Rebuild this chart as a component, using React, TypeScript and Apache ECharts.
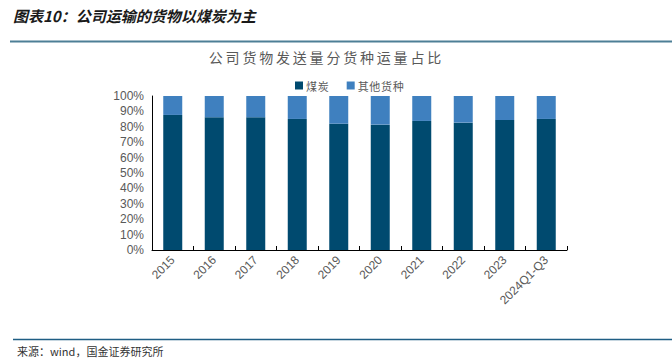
import React, { useEffect, useRef } from "react";
import * as echarts from "echarts";

const categories = ["2015", "2016", "2017", "2018", "2019", "2020", "2021", "2022", "2023", "2024Q1-Q3"];
const coalShare = [87.7, 86.2, 86.2, 85.1, 82.0, 81.4, 83.8, 82.7, 84.4, 85.1];
const otherShare = [12.3, 13.8, 13.8, 14.9, 18.0, 18.6, 16.2, 17.3, 15.6, 14.9];
const seriesNames = ["煤炭", "其他货种"];
const chartTitle = "公司货物发送量分货种运量占比";

const spaced = (s: string, sp: string) => s.split("").join(sp);

export default function App() {
  const ref = useRef<HTMLDivElement>(null);
  useEffect(() => {
    const chart = echarts.init(ref.current!, undefined, { renderer: "svg" });
    chart.setOption({
      animation: false,
      backgroundColor: "#ffffff",
      title: {
        text: spaced(chartTitle, "\u2009"),
        left: 320,
        textAlign: "center",
        top: 45,
        textStyle: {
          fontFamily: "Noto Sans CJK SC",
          fontSize: 14,
          fontWeight: "normal",
          color: "#595959",
        },
      },
      legend: {
        top: 75,
        left: 290,
        itemWidth: 8,
        itemHeight: 8,
        itemGap: 18,
        icon: "rect",
        data: seriesNames,
        formatter: (n: string) => spaced(n, "\u200a"),
        textStyle: { fontFamily: "Noto Sans CJK SC", fontSize: 11, color: "#595959", padding: [0, 0, 0, -2] },
      },
      grid: { left: 152, right: 105, top: 96, bottom: 111 },
      xAxis: {
        type: "category",
        data: categories,
        axisLine: { lineStyle: { color: "#000000", width: 1 } },
        axisTick: { show: true, inside: true, length: 4, lineStyle: { color: "#000000" } },
        axisLabel: {
          rotate: 45,
          fontFamily: "Liberation Sans",
          fontSize: 12,
          color: "#595959",
          margin: 8,
        },
      },
      yAxis: {
        type: "value",
        min: 0,
        max: 100,
        interval: 10,
        splitLine: { show: false },
        axisLine: { show: true, lineStyle: { color: "#000000", width: 1 } },
        axisTick: { show: false },
        axisLabel: {
          formatter: "{value}%",
          fontFamily: "Liberation Sans",
          fontSize: 12,
          color: "#595959",
          margin: 8,
        },
      },
      series: [
        {
          name: seriesNames[0],
          type: "bar",
          stack: "total",
          barWidth: 19,
          data: coalShare,
          itemStyle: { color: "#004a6f" },
        },
        {
          name: seriesNames[1],
          type: "bar",
          stack: "total",
          barWidth: 19,
          data: otherShare,
          itemStyle: { color: "#3f80bf" },
        },
      ],
      graphic: [
        {
          type: "text",
          left: 13,
          top: 8,
          style: {
            text: "图表10：公司运输的货物以煤炭为主",
            fontFamily: "Noto Sans CJK SC",
            fontSize: 15,
            fontWeight: "bold",
            fontStyle: "italic",
            fill: "#1a1a1a",
          },
        },
        {
          type: "line",
          shape: { x1: 10, y1: 41.5, x2: 672, y2: 41.5 },
          style: { stroke: "#4d7f96", lineWidth: 2 },
        },
        {
          type: "line",
          shape: { x1: 13, y1: 339.5, x2: 672, y2: 339.5 },
          style: { stroke: "#1f5e84", lineWidth: 1.5 },
        },
        {
          type: "text",
          left: 17,
          top: 345,
          style: {
            text: "来源：wind，国金证券研究所",
            fontFamily: "Noto Sans CJK SC",
            fontSize: 11,
            fill: "#333333",
          },
        },
      ],
    });
    return () => chart.dispose();
  }, []);
  return <div ref={ref} style={{ width: 672, height: 361, position: "fixed", left: 0, top: 0 }} />;
}
